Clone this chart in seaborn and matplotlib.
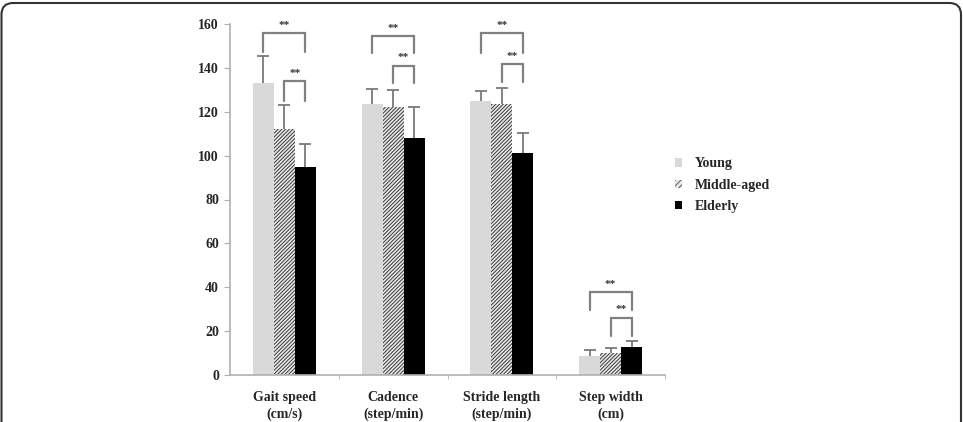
import numpy as np
import pandas as pd
import matplotlib
matplotlib.use("Agg")
import matplotlib.pyplot as plt
from matplotlib.patches import FancyBboxPatch
import seaborn as sns

categories = ["Gait speed\n(cm/s)", "Cadence\n(step/min)", "Stride length\n(step/min)", "Step width\n(cm)"]
groups = ["Young", "Middle-aged", "Elderly"]
young = [133, 123.5, 125, 8.8]
middle = [112, 122, 123.5, 9.9]
elderly = [95, 108, 101, 12.9]
young_sd = [12.5, 7, 4.5, 2.6]
middle_sd = [11, 8, 7.5, 2.5]
elderly_sd = [10.5, 14, 9.5, 2.6]
# significance brackets: (category index, from group, to group, top, leg bottom left, leg bottom right)
brackets = [
    (0, 0, 2, 155.7, 147.4, 147.4),
    (0, 1, 2, 134.0, 125.0, 125.0),
    (1, 0, 2, 154.6, 146.6, 146.6),
    (1, 1, 2, 141.0, 133.0, 133.0),
    (2, 0, 2, 155.7, 147.0, 147.0),
    (2, 1, 2, 141.7, 133.7, 133.7),
    (3, 0, 2, 37.7, 29.6, 29.6),
    (3, 1, 2, 26.1, 17.8, 17.8),
]
yticks = [0, 20, 40, 60, 80, 100, 120, 140, 160]

rows = []
for gi, (g, vals) in enumerate(zip(groups, [young, middle, elderly])):
    for c, v in zip(categories, vals):
        rows.append({"cat": c, "group": g, "val": v})
df = pd.DataFrame(rows)
sds = [young_sd, middle_sd, elderly_sd]

sns.set_style("white")
plt.rcParams["font.family"] = ["Liberation Serif", "DejaVu Serif"]
plt.rcParams["font.weight"] = "bold"
plt.rcParams["hatch.linewidth"] = 0.7

W, H = 963, 422
fig = plt.figure(figsize=(W / 100, H / 100), dpi=100)
ax = fig.add_axes([230 / W, 1 - 375 / H, (665 - 230) / W, (375 - 24) / H])

palette = {"Young": "#d9d9d9", "Middle-aged": "#c8c8c8", "Elderly": "#000000"}
sns.barplot(data=df, x="cat", y="val", hue="group", palette=palette, errorbar=None,
            width=0.58, gap=0, ax=ax, legend=False, saturation=1)

bar_x = {}
bar_containers = list(ax.containers)
for gi, cont in enumerate(bar_containers):
    for ci, p in enumerate(cont.patches):
        cx = p.get_x() + p.get_width() / 2
        bar_x[(ci, gi)] = cx
        p.set_linewidth(0)
        p.set_zorder(2)
        if gi == 1:
            p.set_hatch("/////////")
            p.set_edgecolor("#3a3a3a")
            p.set_facecolor("#e8e8e8")
        top = p.get_height()
        ax.vlines(cx, top, top + sds[gi][ci], color="#7a7a7a", lw=1.3, zorder=1)
        ax.plot([cx], [top + sds[gi][ci]], marker="_", markersize=8, mew=1.3,
                color="#7a7a7a", zorder=1)

for ci, a, b, top, la, lb in brackets:
    xa, xb = bar_x[(ci, a)], bar_x[(ci, b)]
    ax.plot([xa, xa, xb, xb], [la, top, top, lb], color="#808080", lw=1.6,
            solid_joinstyle="miter", clip_on=False)
    ax.text((xa + xb) / 2, top + 1.5, "**", ha="center", va="bottom", fontsize=8,
            color="#333333", fontweight="bold")

ax.set_ylim(0, 160)
ax.set_xlim(-0.5, 3.5)
ax.set_yticks(yticks)
ax.set_yticklabels([str(t) for t in yticks], fontsize=10, fontweight="bold")
ax.set_xticks(range(len(categories)))
ax.set_xticklabels(categories, fontsize=10, fontweight="bold", linespacing=1.35)
ax.set_xlabel("")
ax.set_ylabel("")
for s in ["top", "right"]:
    ax.spines[s].set_visible(False)
for s in ["left", "bottom"]:
    ax.spines[s].set_color("#b0b0b0")
    ax.spines[s].set_linewidth(1.2)
ax.tick_params(axis="y", left=True, length=4, color="#b0b0b0", pad=4)
ax.tick_params(axis="x", bottom=False, pad=8)
ax.set_xticks([0.5, 1.5, 2.5, 3.5], minor=True)
ax.tick_params(axis="x", which="minor", bottom=True, length=3, color="#b0b0b0")

handles = [
    plt.Rectangle((0, 0), 1, 1, facecolor="#d9d9d9", edgecolor="none"),
    plt.Rectangle((0, 0), 1, 1, facecolor="#e8e8e8", edgecolor="#5a5a5a", hatch="//////", linewidth=0),
    plt.Rectangle((0, 0), 1, 1, facecolor="#000000", edgecolor="none"),
]
leg = fig.legend(handles, groups, loc="upper left", bbox_to_anchor=(662 / W, 1 - 145 / H),
                 frameon=False, handlelength=0.55, handleheight=0.55, handletextpad=0.9,
                 labelspacing=0.6, prop={"family": "Liberation Serif", "weight": "bold", "size": 10})

border = FancyBboxPatch((1.5 / W, -0.1), (961 - 1.5) / W, (1 - 3 / H) + 0.1,
                        boxstyle="round,pad=0,rounding_size=0.012",
                        transform=fig.transFigure, facecolor="none", edgecolor="#333333",
                        linewidth=1.5, clip_on=False, mutation_aspect=W / H)
fig.patches.append(border)

fig.savefig("out.png", dpi=100)
